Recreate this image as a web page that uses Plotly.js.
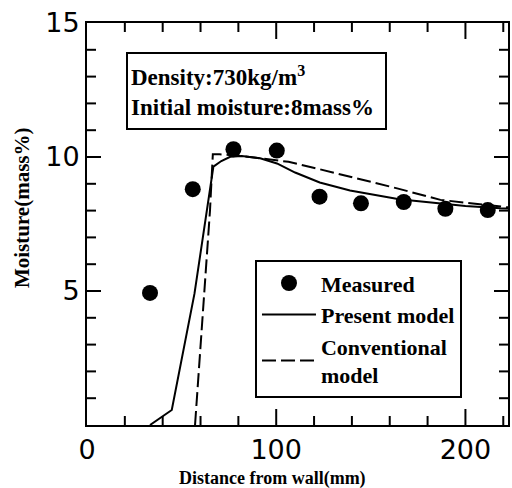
<!DOCTYPE html>
<html>
<head>
<meta charset="utf-8">
<script src="https://cdn.plot.ly/plotly-3.0.1.min.js"></script>
<style>html,body{margin:0;padding:0;background:#fff;}#chart{width:512px;height:488px;}</style>
</head>
<body>
<div id="chart"></div>
<script>
// Measured moisture
const measuredX = [33.3, 55.9, 77.4, 100.3, 122.9, 144.8, 167.4, 189.4, 211.8];
const measuredY = [4.93, 8.8, 10.29, 10.24, 8.52, 8.27, 8.32, 8.07, 8.02];
// Present model (solid)
const presentX = [33.3, 44.8, 56.8, 66.0, 66.8, 71, 75.7, 81.8, 91.5, 100.4, 110, 123, 139, 165, 187, 200, 218.5, 222.5];
const presentY = [0, 0.56, 4.9, 9.25, 9.64, 9.85, 10.01, 10.04, 9.95, 9.76, 9.42, 9.05, 8.75, 8.42, 8.25, 8.17, 8.09, 8.08];
// Conventional model (dashed)
const convX = [57.1, 65, 66.5, 70, 80, 90, 100, 106.5, 118, 139.2, 163.9, 186.8, 199.1, 210, 222.5];
const convY = [0, 8.0, 10.1, 10.1, 10.05, 9.97, 9.88, 9.82, 9.63, 9.27, 8.83, 8.40, 8.30, 8.2, 8.12];
// Tick labels
const xTickVals = [0, 100, 200];
const xTickText = ['0', '100', '200'];
const yTickVals = [5, 10, 15];
const yTickText = ['5', '10', '15'];

const serif = 'Liberation Serif, Times New Roman, serif';
const W = 512, H = 488;
const M = {l: 87, r: 4, t: 23, b: 63};
const plotW = W - M.l - M.r, plotH = H - M.t - M.b;
const xRange = [0, 222.5], yRange = [0, 15];
const xMinorStep = 20, yMinorStep = 1;

// Tick marks drawn as axis-anchored shapes (inside, mirrored on all four sides)
const tickShapes = [];
function addXTick(v, lenPx) {
  const f = lenPx / plotH;
  tickShapes.push({type: 'line', xref: 'x', yref: 'paper', x0: v, x1: v, y0: 0, y1: f, line: {color: '#000', width: 2}});
  tickShapes.push({type: 'line', xref: 'x', yref: 'paper', x0: v, x1: v, y0: 1, y1: 1 - f, line: {color: '#000', width: 2}});
}
function addYTick(v, lenPx) {
  const f = lenPx / plotW;
  tickShapes.push({type: 'line', xref: 'paper', yref: 'y', x0: 0, x1: f, y0: v, y1: v, line: {color: '#000', width: 2}});
  tickShapes.push({type: 'line', xref: 'paper', yref: 'y', x0: 1, x1: 1 - f, y0: v, y1: v, line: {color: '#000', width: 2}});
}
for (let v = xMinorStep; v <= xRange[1]; v += xMinorStep) {
  addXTick(v, xTickVals.indexOf(v) >= 0 ? 16 : 9);
}
for (let v = yMinorStep; v < yRange[1]; v += yMinorStep) {
  addYTick(v, yTickVals.indexOf(v) >= 0 ? 14 : 9);
}

const traces = [
  {x: presentX, y: presentY, type: 'scatter', mode: 'lines', name: 'Present model',
   line: {color: '#000', width: 2}, legendrank: 2},
  {x: convX, y: convY, type: 'scatter', mode: 'lines', name: 'Conventional<br>model',
   line: {color: '#000', width: 2, dash: '14px,5px'}, legendrank: 3},
  {x: measuredX, y: measuredY, type: 'scatter', mode: 'markers', name: 'Measured',
   marker: {color: '#000', size: 16}, legendrank: 1}
];

const tickFont = {family: 'DejaVu Sans, sans-serif', size: 27, color: '#000'};

const layout = {
  width: W, height: H,
  margin: M,
  showlegend: true,
  legend: {
    x: 0.399, y: 0.41, xanchor: 'left', yanchor: 'top',
    bordercolor: '#000', borderwidth: 2, bgcolor: '#fff',
    font: {family: serif, size: 22, color: '#000', weight: 'bold'},
    itemwidth: 54, tracegroupgap: 0
  },
  xaxis: {
    range: xRange, tickmode: 'array', tickvals: xTickVals, ticktext: xTickText,
    showgrid: false, zeroline: false, showline: true, linecolor: '#000', linewidth: 2,
    mirror: true, ticks: '', tickfont: tickFont
  },
  yaxis: {
    range: yRange, tickmode: 'array', tickvals: yTickVals, ticktext: yTickText,
    showgrid: false, zeroline: false, showline: true, linecolor: '#000', linewidth: 2,
    mirror: true, ticks: '', tickfont: tickFont
  },
  shapes: tickShapes,
  annotations: [
    {xref: 'paper', yref: 'paper', x: 0.0926, y: 0.928, xanchor: 'left', yanchor: 'top',
     text: 'Density:730kg/m<sup>3</sup><br>Initial moisture:8mass%', showarrow: false,
     align: 'left', bordercolor: '#000', borderwidth: 2, borderpad: 3, bgcolor: '#fff',
     width: 251, height: 68, font: {family: serif, size: 23, color: '#000', weight: 'bold'}},
    {xref: 'paper', yref: 'paper', x: 0.44, y: -0.132, xanchor: 'center', yanchor: 'middle',
     text: '<b>Distance from wall(mm)</b>', showarrow: false,
     font: {family: serif, size: 18, color: '#000'}},
    {xref: 'paper', yref: 'paper', x: -0.154, y: 0.54, xanchor: 'center', yanchor: 'middle',
     text: '<b>Moisture(mass%)</b>', showarrow: false, textangle: -90,
     font: {family: serif, size: 21, color: '#000'}}
  ]
};

Plotly.newPlot('chart', traces, layout, {displayModeBar: false});
</script>
</body>
</html>
